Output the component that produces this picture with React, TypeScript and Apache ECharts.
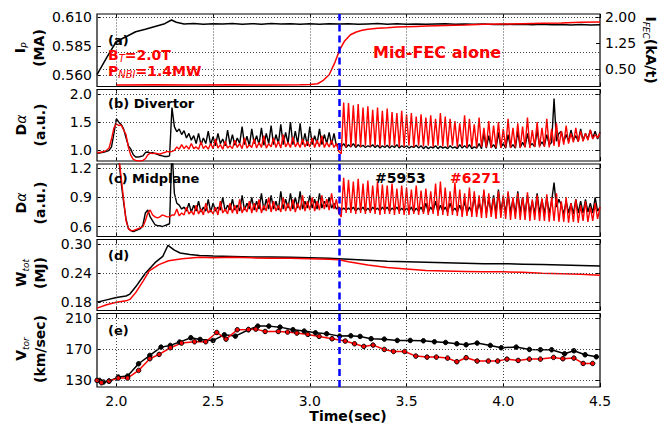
import React, { useEffect, useRef } from 'react';
import * as echarts from 'echarts';

const FONT = 'DejaVu Sans';

// x axis
const X_TICKS = [2.0, 2.5, 3.0, 3.5, 4.0, 4.5];

// (a) plasma current (MA), shot #5953
const IP_5953: number[][] = [
  [1.9, 0.5604], [1.95, 0.575], [2.0, 0.5891], [2.05, 0.5932], [2.1, 0.5976], [2.15, 0.5998], [2.2, 0.6022],
  [2.25, 0.6046], [2.285, 0.6078], [2.31, 0.6058], [2.35, 0.6044], [2.4, 0.6048], [2.45, 0.6041], [2.5, 0.6046],
  [2.55, 0.6043], [2.6, 0.6048], [2.65, 0.604], [2.7, 0.6046], [2.75, 0.6042], [2.8, 0.6047], [2.85, 0.6043],
  [2.9, 0.6045], [2.95, 0.6041], [3.0, 0.6046], [3.05, 0.6042], [3.1, 0.6045], [3.15, 0.6043], [3.2, 0.6046],
  [3.25, 0.6041], [3.3, 0.6044], [3.35, 0.6047], [3.4, 0.6042], [3.45, 0.6045], [3.5, 0.6041], [3.55, 0.6044],
  [3.6, 0.604], [3.65, 0.6043], [3.7, 0.6046], [3.75, 0.6041], [3.8, 0.6044], [3.85, 0.604], [3.9, 0.6043],
  [3.95, 0.6039], [4.0, 0.6042], [4.05, 0.6038], [4.1, 0.6041], [4.15, 0.6037], [4.2, 0.604], [4.25, 0.6036],
  [4.3, 0.6039], [4.35, 0.6035], [4.4, 0.6038], [4.45, 0.6034], [4.5, 0.6037],
];
// (a) FEC coil current (kA/t), shot #6271
const IFEC_6271: number[][] = [
  [2.0, 0.04], [2.2, 0.05], [2.4, 0.04], [2.6, 0.05], [2.8, 0.04], [2.95, 0.05], [3.0, 0.06], [3.04, 0.08],
  [3.07, 0.18], [3.1, 0.34], [3.13, 0.7], [3.155, 1.07], [3.18, 1.32], [3.21, 1.5], [3.24, 1.58], [3.27, 1.63],
  [3.3, 1.66], [3.35, 1.69], [3.4, 1.7], [3.45, 1.72], [3.5, 1.73], [3.55, 1.74], [3.6, 1.75], [3.7, 1.77],
  [3.8, 1.78], [3.9, 1.8], [4.0, 1.81], [4.1, 1.82], [4.2, 1.83], [4.3, 1.84], [4.4, 1.86], [4.5, 1.87],
];

// Dα signals sampled from T0 every DT seconds
const T0 = 1.9;
const DT = 0.0125;
const DIV_5953 = [
  0.95, 0.95, 0.96, 0.97, 0.98, 1.0, 1.06, 1.3,
  1.56, 1.5, 1.46, 1.38, 1.22, 1.08, 1.02, 0.92,
  0.88, 0.88, 0.89, 0.9, 0.96, 0.97, 0.95, 0.96,
  0.94, 0.93, 0.91, 0.9, 0.89, 0.89, 0.9, 1.76,
  1.42, 1.33, 1.38, 1.28, 1.35, 1.22, 1.3, 1.18,
  1.26, 1.12, 1.3, 1.1, 1.22, 1.12, 1.34, 1.1,
  1.24, 1.08, 1.3, 1.12, 1.2, 1.08, 1.36, 1.1,
  1.28, 1.09, 1.22, 1.12, 1.42, 1.1, 1.25, 1.08,
  1.38, 1.12, 1.26, 1.1, 1.4, 1.09, 1.3, 1.12,
  1.44, 1.1, 1.28, 1.12, 1.46, 1.1, 1.32, 1.12,
  1.5, 1.1, 1.34, 1.12, 1.48, 1.1, 1.3, 1.08,
  1.42, 1.1, 1.26, 1.12, 1.38, 1.1, 1.28, 1.12,
  1.32, 1.1, 1.3, 1.08, 1.12, 1.06, 1.12, 1.05,
  1.1, 1.06, 1.12, 1.05, 1.1, 1.06, 1.09, 1.05,
  1.08, 1.06, 1.1, 1.05, 1.09, 1.04, 1.08, 1.05,
  1.09, 1.04, 1.08, 1.05, 1.1, 1.04, 1.08, 1.05,
  1.08, 1.04, 1.07, 1.05, 1.09, 1.04, 1.08, 1.03,
  1.07, 1.03, 1.06, 1.04, 1.08, 1.03, 1.07, 1.04,
  1.06, 1.03, 1.08, 1.04, 1.06, 1.03, 1.1, 1.04,
  1.08, 1.04, 1.1, 1.03, 1.06, 1.04, 1.12, 1.03,
  1.3, 1.04, 1.26, 1.05, 1.1, 1.03, 1.32, 1.05,
  1.12, 1.04, 1.28, 1.05, 1.1, 1.04, 1.34, 1.05,
  1.14, 1.06, 1.3, 1.08, 1.12, 1.06, 1.36, 1.08,
  1.15, 1.08, 1.28, 1.1, 1.14, 1.92, 1.16, 1.3,
  1.34, 1.15, 1.28, 1.16, 1.36, 1.18, 1.26, 1.16,
  1.38, 1.18, 1.3, 1.2, 1.36, 1.22, 1.34, 1.2,
  1.32,
];
const DIV_6271 = [
  0.96, 0.96, 0.97, 0.98, 1.0, 1.04, 1.2, 1.4,
  1.47, 1.44, 1.45, 1.36, 1.28, 1.05, 0.91, 0.84,
  0.82, 0.81, 0.81, 0.82, 0.85, 0.92, 0.95, 0.94,
  0.95, 0.94, 0.93, 0.95, 0.96, 0.98, 0.97, 0.98,
  1.0, 1.06, 1.02, 1.1, 1.03, 1.08, 1.02, 1.12,
  1.03, 1.06, 1.02, 1.15, 1.03, 1.08, 1.02, 1.12,
  1.03, 1.2, 1.04, 1.1, 1.02, 1.16, 1.04, 1.08,
  1.03, 1.18, 1.05, 1.12, 1.03, 1.22, 1.04, 1.1,
  1.05, 1.2, 1.04, 1.14, 1.05, 1.26, 1.04, 1.12,
  1.06, 1.22, 1.05, 1.16, 1.04, 1.28, 1.06, 1.14,
  1.05, 1.24, 1.06, 1.14, 1.05, 1.2, 1.06, 1.16,
  1.06, 1.22, 1.05, 1.18, 1.06, 1.26, 1.05, 1.14,
  1.06, 1.18, 1.05, 1.12, 0.98, 0.94, 1.85, 1.05,
  1.84, 1.06, 1.8, 1.07, 1.82, 1.06, 1.76, 1.08,
  1.78, 1.07, 1.72, 1.08, 1.76, 1.06, 1.7, 1.08,
  1.74, 1.07, 1.68, 1.08, 1.66, 1.06, 1.7, 1.07,
  1.64, 1.08, 1.66, 1.06, 1.6, 1.08, 1.64, 1.07,
  1.58, 1.08, 1.62, 1.06, 1.56, 1.08, 1.66, 1.07,
  1.6, 1.06, 1.56, 1.08, 1.52, 1.06, 1.48, 1.07,
  1.62, 1.05, 1.56, 1.06, 1.46, 1.05, 1.58, 1.06,
  1.4, 1.05, 1.52, 1.04, 1.44, 1.05, 1.5, 1.04,
  1.38, 1.05, 1.56, 1.04, 1.4, 1.05, 1.48, 1.04,
  1.42, 1.05, 1.58, 1.04, 1.36, 1.06, 1.5, 1.05,
  1.4, 1.06, 1.56, 1.05, 1.38, 1.08, 1.48, 1.06,
  1.34, 1.1, 1.44, 1.12, 1.3, 1.14, 1.4, 1.15,
  1.34, 1.16, 1.3, 1.18, 1.36, 1.2, 1.28, 1.22,
  1.3,
];
const MID_5953 = [
  1.6, 1.62, 1.64, 1.66, 1.68, 1.7, 1.7, 1.62,
  1.45, 1.3, 1.05, 0.85, 0.68, 0.58, 0.56, 0.55,
  0.56, 0.57, 0.58, 0.62, 0.74, 0.77, 0.7, 0.66,
  0.62, 0.61, 0.61, 0.6, 0.61, 0.62, 0.63, 1.4,
  0.94, 0.84, 0.82, 0.78, 0.8, 0.76, 0.84, 0.75,
  0.82, 0.76, 0.86, 0.75, 0.8, 0.76, 0.88, 0.75,
  0.84, 0.76, 0.8, 0.77, 0.9, 0.76, 0.82, 0.77,
  0.88, 0.77, 0.82, 0.76, 0.92, 0.77, 0.84, 0.78,
  0.9, 0.77, 0.86, 0.78, 0.94, 0.77, 0.88, 0.78,
  0.92, 0.78, 0.86, 0.77, 0.96, 0.78, 0.88, 0.79,
  0.94, 0.78, 0.9, 0.79, 0.96, 0.78, 0.86, 0.79,
  0.92, 0.79, 0.88, 0.78, 0.94, 0.79, 0.86, 0.8,
  0.9, 0.79, 0.84, 0.78, 0.8, 0.77, 0.79, 0.77,
  0.79, 0.77, 0.8, 0.76, 0.79, 0.77, 0.8, 0.76,
  0.79, 0.76, 0.8, 0.77, 0.79, 0.76, 0.8, 0.77,
  0.8, 0.76, 0.79, 0.77, 0.8, 0.76, 0.79, 0.76,
  0.79, 0.76, 0.8, 0.75, 0.79, 0.76, 0.8, 0.75,
  0.84, 0.75, 0.8, 0.76, 0.86, 0.75, 0.82, 0.76,
  0.8, 0.75, 0.84, 0.76, 0.79, 0.75, 0.82, 0.75,
  0.86, 0.74, 0.8, 0.75, 0.9, 0.74, 0.84, 0.75,
  0.95, 0.74, 0.88, 0.75, 0.92, 0.74, 0.98, 0.75,
  0.9, 0.74, 0.94, 0.75, 0.88, 0.73, 0.96, 0.74,
  0.9, 0.73, 0.92, 0.74, 0.86, 0.73, 0.94, 0.74,
  0.88, 0.73, 0.9, 0.74, 0.86, 1.05, 0.8, 0.88,
  0.82, 0.73, 0.86, 0.74, 0.84, 0.73, 0.88, 0.74,
  0.86, 0.74, 0.88, 0.75, 0.84, 0.74, 0.9, 0.76,
  0.8,
];
const MID_6271 = [
  1.55, 1.58, 1.6, 1.62, 1.64, 1.66, 1.66, 1.58,
  1.46, 1.32, 1.1, 0.88, 0.66, 0.58, 0.56, 0.56,
  0.57, 0.58, 0.59, 0.6, 0.66, 0.74, 0.77, 0.72,
  0.7, 0.69, 0.7, 0.72, 0.71, 0.7, 0.7, 0.72,
  0.72, 0.78, 0.71, 0.74, 0.72, 0.8, 0.73, 0.76,
  0.72, 0.82, 0.73, 0.78, 0.72, 0.84, 0.74, 0.77,
  0.73, 0.8, 0.72, 0.86, 0.74, 0.78, 0.73, 0.84,
  0.74, 0.82, 0.73, 0.88, 0.74, 0.8, 0.75, 0.86,
  0.74, 0.84, 0.75, 0.88, 0.74, 0.82, 0.76, 0.9,
  0.75, 0.86, 0.76, 0.82, 0.75, 0.9, 0.76, 0.84,
  0.76, 0.88, 0.75, 0.84, 0.77, 0.92, 0.76, 0.86,
  0.77, 0.9, 0.76, 0.86, 0.77, 0.92, 0.78, 0.88,
  0.77, 0.94, 0.78, 0.88, 0.74, 0.7, 1.1, 0.74,
  1.08, 0.74, 1.06, 0.73, 1.09, 0.74, 1.04, 0.73,
  1.07, 0.74, 1.02, 0.73, 1.06, 0.72, 1.03, 0.73,
  1.02, 0.73, 1.04, 0.72, 0.99, 0.73, 1.02, 0.72,
  1.0, 0.72, 0.98, 0.73, 1.02, 0.72, 0.97, 0.73,
  0.99, 0.72, 0.96, 0.73, 1.04, 0.71, 1.06, 0.72,
  1.0, 0.71, 0.96, 0.72, 1.05, 0.71, 0.98, 0.7,
  0.94, 0.71, 1.0, 0.7, 0.96, 0.7, 0.92, 0.69,
  0.98, 0.69, 0.94, 0.7, 0.9, 0.68, 0.96, 0.69,
  0.92, 0.68, 0.96, 0.67, 0.9, 0.68, 0.94, 0.67,
  0.9, 0.67, 0.95, 0.66, 0.88, 0.67, 0.92, 0.66,
  0.89, 0.66, 0.93, 0.65, 0.9, 0.66, 0.94, 0.65,
  0.86, 0.65, 0.9, 0.64, 0.84, 0.65, 0.88, 0.64,
  0.82, 0.66, 0.86, 0.65, 0.8, 0.66, 0.84, 0.68,
  0.8,
];

// (d) stored energy (MJ)
const WTOT_5953: number[][] = [
  [1.9, 0.18], [1.95, 0.185], [2.0, 0.19], [2.05, 0.193], [2.07, 0.197], [2.1, 0.212], [2.15, 0.24],
  [2.2, 0.262], [2.24, 0.275], [2.267, 0.298], [2.3, 0.288], [2.33, 0.282], [2.38, 0.279], [2.43, 0.277],
  [2.5, 0.276], [2.6, 0.275], [2.7, 0.274], [2.8, 0.274], [2.9, 0.273], [3.0, 0.272], [3.1, 0.271],
  [3.2, 0.269], [3.3, 0.267], [3.4, 0.265], [3.5, 0.264], [3.6, 0.263], [3.7, 0.262], [3.8, 0.261],
  [3.9, 0.26], [4.0, 0.26], [4.1, 0.259], [4.2, 0.258], [4.3, 0.257], [4.4, 0.256], [4.5, 0.255],
];
const WTOT_6271: number[][] = [
  [1.9, 0.168], [1.95, 0.175], [2.0, 0.18], [2.05, 0.183], [2.07, 0.186], [2.1, 0.2], [2.14, 0.225],
  [2.17, 0.245], [2.22, 0.258], [2.27, 0.266], [2.34, 0.27], [2.43, 0.273], [2.5, 0.272], [2.6, 0.273],
  [2.7, 0.272], [2.8, 0.271], [2.9, 0.271], [3.0, 0.27], [3.1, 0.269], [3.15, 0.268], [3.2, 0.264],
  [3.3, 0.257], [3.4, 0.252], [3.5, 0.249], [3.6, 0.246], [3.7, 0.245], [3.8, 0.244], [3.9, 0.243],
  [4.0, 0.243], [4.1, 0.242], [4.2, 0.24], [4.3, 0.239], [4.4, 0.238], [4.5, 0.236],
];

// (e) toroidal rotation (km/sec)
const VTOR_5953: number[][] = [
  [1.913, 130.0], [1.933, 127.9], [1.962, 129.1], [2.01, 134.3], [2.058, 135.6], [2.115, 151.5], [2.173, 162.3],
  [2.231, 173.0], [2.279, 175.2], [2.327, 179.5], [2.385, 185.1], [2.433, 182.9], [2.5, 181.6], [2.558, 188.9],
  [2.615, 187.2], [2.683, 195.4], [2.731, 200.1], [2.788, 200.1], [2.846, 198.8], [2.913, 195.4], [2.971, 193.7],
  [3.029, 191.5], [3.087, 190.2], [3.154, 187.2], [3.212, 187.6], [3.26, 186.8], [3.317, 183.8], [3.385, 183.3],
  [3.452, 181.6], [3.519, 181.6], [3.587, 181.2], [3.644, 179.9], [3.702, 179.0], [3.76, 177.3], [3.808, 176.0],
  [3.865, 178.2], [3.933, 175.2], [3.99, 172.2], [4.067, 173.0], [4.135, 170.0], [4.192, 169.6], [4.25, 169.6],
  [4.317, 164.4], [4.365, 168.3], [4.423, 163.1], [4.481, 160.5],
];
const VTOR_6271: number[][] = [
  [1.9, 130.0], [1.923, 127.0], [1.962, 129.1], [2.01, 133.0], [2.058, 133.0], [2.115, 142.9], [2.173, 158.0],
  [2.221, 163.6], [2.279, 172.2], [2.337, 178.2], [2.404, 179.9], [2.462, 179.9], [2.519, 191.9], [2.567, 183.3],
  [2.625, 195.4], [2.683, 195.8], [2.721, 196.2], [2.769, 193.2], [2.837, 193.2], [2.885, 192.4], [2.933, 191.1],
  [2.99, 189.4], [3.048, 186.8], [3.115, 183.8], [3.183, 180.8], [3.231, 177.3], [3.279, 173.9], [3.327, 175.6],
  [3.385, 170.0], [3.433, 167.4], [3.49, 167.4], [3.548, 161.4], [3.606, 160.1], [3.654, 160.1], [3.712, 158.8],
  [3.76, 154.1], [3.808, 159.3], [3.865, 155.0], [3.923, 155.0], [3.971, 155.0], [4.019, 157.5], [4.077, 155.8],
  [4.135, 157.5], [4.192, 157.5], [4.26, 159.7], [4.308, 158.0], [4.365, 158.8], [4.413, 151.9], [4.462, 151.9],
];

// tick values of the y axes
const YA_TICKS = [0.56, 0.585, 0.61];
const YA2_TICKS = [0.5, 1.25, 2.0];
const YB_TICKS = [1.0, 1.5, 2.0];
const YC_TICKS = [0.6, 0.9, 1.2];
const YD_TICKS = [0.18, 0.24, 0.3];
const YE_TICKS = [130, 170, 210];

const ECH_TIME = 3.155;

const sampled = (vals: number[]) => vals.map((v, i) => [+(T0 + i * DT).toFixed(4), v]);

const App: React.FC = () => {
  const ref = useRef<HTMLDivElement>(null);
  useEffect(() => {
    if (!ref.current) return;
    const chart = echarts.init(ref.current, undefined, { renderer: 'svg' });

    const GRIDS = [
      { top: 14, height: 72.5 },
      { top: 89.5, height: 71.5 },
      { top: 164, height: 72.5 },
      { top: 239.5, height: 71 },
      { top: 313.5, height: 73.5 },
    ];
    const YCFG = [
      { min: 0.55, max: 0.613, ticks: YA_TICKS, dec: 3 },
      { min: 0.81, max: 2.08, ticks: YB_TICKS, dec: 1 },
      { min: 0.5, max: 1.24, ticks: YC_TICKS, dec: 1 },
      { min: 0.163, max: 0.31, ticks: YD_TICKS, dec: 2 },
      { min: 121.5, max: 216.4, ticks: YE_TICKS, dec: 0 },
    ];
    const labelStyle = { fontSize: 14, color: '#000', fontFamily: FONT };
    const tick = (vals: number[]) => ({ show: true, inside: true, length: 4, customValues: vals, lineStyle: { color: '#000', width: 1 } });
    const dotted = { color: '#444', type: [1, 2] as any, width: 1 };
    const blue = { color: '#0000ff', type: [7, 4] as any, width: 2.5 };

    const xAxis: any[] = [];
    GRIDS.forEach((_, k) => {
      xAxis.push({
        gridIndex: k, type: 'value', min: 1.9, max: 4.5, position: 'bottom',
        axisLine: { show: false }, axisTick: tick(X_TICKS),
        axisLabel: { show: k === 4, customValues: X_TICKS, margin: 7, formatter: (v: number) => v.toFixed(1), ...labelStyle },
        splitLine: { show: false },
      });
    });
    GRIDS.forEach((_, k) => {
      xAxis.push({
        gridIndex: k, type: 'value', min: 1.9, max: 4.5, position: 'top',
        axisLine: { show: false }, axisTick: tick(X_TICKS), axisLabel: { show: false }, splitLine: { show: false },
      });
    });
    const yAxis: any[] = [];
    YCFG.forEach((c, k) => {
      yAxis.push({
        gridIndex: k, type: 'value', min: c.min, max: c.max, position: 'left',
        axisLine: { show: false }, axisTick: tick(c.ticks),
        axisLabel: { customValues: c.ticks, margin: 5, formatter: (v: number) => v.toFixed(c.dec), ...labelStyle },
        splitLine: { show: false },
      });
    });
    YCFG.forEach((c, k) => {
      if (k === 0) {
        yAxis.push({
          gridIndex: 0, type: 'value', min: 0, max: 2.1, position: 'right',
          axisLine: { show: false }, axisTick: tick(YA2_TICKS),
          axisLabel: { customValues: YA2_TICKS, margin: 5, formatter: (v: number) => v.toFixed(2), ...labelStyle },
          splitLine: { show: false },
        });
      } else {
        yAxis.push({
          gridIndex: k, type: 'value', min: c.min, max: c.max, position: 'right',
          axisLine: { show: false }, axisTick: tick(c.ticks), axisLabel: { show: false }, splitLine: { show: false },
        });
      }
    });

    // dotted grid lines through the axes, attached to the black series of each panel
    const gridMarks = (yTicks: number[]) => ({
      silent: true, symbol: ['none', 'none'], label: { show: false }, lineStyle: dotted,
      data: [
        ...X_TICKS.filter((v) => v < 4.5).map((v) => ({ xAxis: v, lineStyle: dotted })),
        ...yTicks.map((v) => ({ yAxis: v, lineStyle: dotted })),
      ],
    });
    // blue dashed time marker (plus right-axis grid lines in panel a)
    const echMark = (extraY: number[] = []) => ({
      silent: true, symbol: ['none', 'none'], label: { show: false }, lineStyle: blue,
      data: [
        ...extraY.map((v) => ({ yAxis: v, lineStyle: dotted })),
        { xAxis: ECH_TIME, lineStyle: blue },
      ],
    });
    const line = (k: number, yIdx: number, data: any[], color: string, extra: any = {}) => ({
      type: 'line', xAxisIndex: k, yAxisIndex: yIdx, data, showSymbol: false, silent: true,
      lineStyle: { color, width: 1.5 }, itemStyle: { color }, ...extra,
    });

    const series: any[] = [
      line(0, 0, IP_5953, '#000', { markLine: gridMarks(YA_TICKS) }),
      line(0, 5, IFEC_6271, '#ff0000', { markLine: echMark([0.5]) }),
      line(1, 1, sampled(DIV_5953), '#000', { lineStyle: { color: '#000', width: 1.4 }, markLine: gridMarks(YB_TICKS) }),
      line(1, 1, sampled(DIV_6271), '#ff0000', { lineStyle: { color: '#ff0000', width: 1.4 }, markLine: echMark() }),
      line(2, 2, sampled(MID_5953), '#000', { lineStyle: { color: '#000', width: 1.4 }, markLine: gridMarks(YC_TICKS) }),
      line(2, 2, sampled(MID_6271), '#ff0000', { lineStyle: { color: '#ff0000', width: 1.4 }, markLine: echMark() }),
      line(3, 3, WTOT_5953, '#000', { markLine: gridMarks(YD_TICKS) }),
      line(3, 3, WTOT_6271, '#ff0000', { markLine: echMark() }),
      line(4, 4, VTOR_5953, '#000', {
        showSymbol: true, symbol: 'circle', symbolSize: 4.5,
        itemStyle: { color: '#000', borderColor: '#000', borderWidth: 1 }, markLine: gridMarks(YE_TICKS),
      }),
      line(4, 4, VTOR_6271, '#ff0000', {
        showSymbol: true, symbol: 'circle', symbolSize: 4.5,
        itemStyle: { color: '#ff0000', borderColor: '#000', borderWidth: 1 }, markLine: echMark(),
      }),
    ];

    const bold = (size: number, fill: string, lh = 18) => ({ fontSize: size, fontWeight: 'bold', fontFamily: FONT, fill, lineHeight: lh });
    const sub = (size: number, fill: string, lh = 10) => ({ fontSize: size, fontStyle: 'italic', fontFamily: FONT, fill, verticalAlign: 'bottom', lineHeight: lh });
    const titleRich = { b: bold(14, '#000', 19), s: sub(9, '#000', 9), g: { fontSize: 14, fontStyle: 'italic', fontFamily: FONT, fill: '#000', lineHeight: 19 } };
    const ytitle = (x: number, y: number, text: string, rot = Math.PI / 2) => ({
      type: 'text', x, y, rotation: rot, silent: true, z: 100,
      style: { text, rich: titleRich, align: 'center', verticalAlign: 'middle' },
    });
    const plain = (x: number, y: number, text: string, size: number, fill: string) => ({
      type: 'text', x, y, silent: true, z: 100,
      style: { text, fontSize: size, fontWeight: 'bold', fontFamily: FONT, fill, align: 'left', verticalAlign: 'middle' },
    });
    const redRich = { r: bold(14, '#ff0000', 16), s: sub(10, '#ff0000', 10) };

    const graphic: any[] = [
      ytitle(29, 48, '{b|I}{s|P}\n{b|(MA)}'),
      ytitle(30, 125, '{b|D}{g|α}\n{b|(a.u.)}'),
      ytitle(30, 203, '{b|D}{g|α}\n{b|(a.u.)}'),
      ytitle(30, 273, '{b|W}{s|tot}\n{b|(MJ)}'),
      ytitle(30, 349, '{b|V}{s|tor}\n{b|(km/sec)}'),
      ytitle(651, 50, '{b|I}{s|FEC}{b|(kA/t)}', -Math.PI / 2),
      plain(108, 40, '(a)', 13, '#000'),
      { type: 'text', x: 108, y: 55, silent: true, z: 100, style: { text: '{r|B}{s|T}{r|=2.0T}', rich: redRich, align: 'left', verticalAlign: 'middle' } },
      { type: 'text', x: 108, y: 71, silent: true, z: 100, style: { text: '{r|P}{s|NBI}{r|=1.4MW}', rich: redRich, align: 'left', verticalAlign: 'middle' } },
      plain(373, 52, 'Mid-FEC alone', 16, '#ff0000'),
      plain(108, 103, '(b) Divertor', 13, '#000'),
      plain(108, 178, '(c) Midplane', 13, '#000'),
      plain(375, 178, '#5953', 14, '#000'),
      plain(450, 178, '#6271', 14, '#ff0000'),
      plain(108, 255, '(d)', 13, '#000'),
      plain(108, 330, '(e)', 13, '#000'),
      {
        type: 'text', x: 348, y: 416, silent: true, z: 100,
        style: { text: 'Time(sec)', fontSize: 14, fontWeight: 'bold', fontFamily: FONT, fill: '#000', align: 'center', verticalAlign: 'middle' },
      },
    ];

    chart.setOption({
      animation: false,
      backgroundColor: '#ffffff',
      textStyle: { fontFamily: FONT },
      grid: GRIDS.map((g) => ({
        left: 97, right: 71, top: g.top, height: g.height, show: true,
        borderColor: '#000', borderWidth: 1.2, backgroundColor: 'transparent',
      })),
      xAxis, yAxis, series, graphic,
    });
    return () => chart.dispose();
  }, []);
  return <div ref={ref} style={{ position: 'fixed', left: 0, top: 0, width: 671, height: 427 }} />;
};

export default App;
